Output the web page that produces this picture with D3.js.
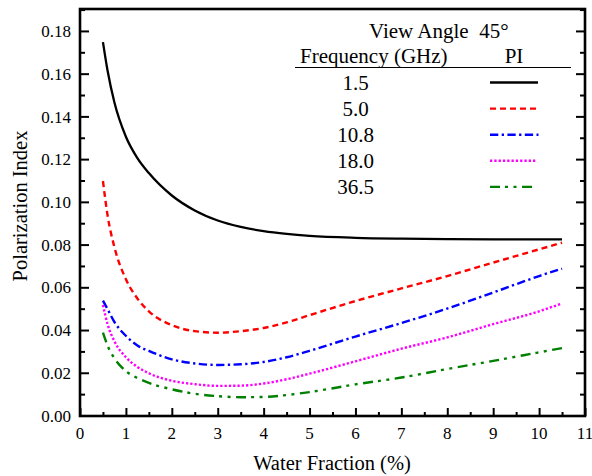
<!DOCTYPE html>
<html>
  <head>
    <meta charset="utf-8">
    <script src="https://d3js.org/d3.v7.min.js"></script>
    <style>
      body { margin: 0; background: #fff; }
    </style>
  </head>
  <body>
    <div id="chart"></div>
    <script>

      // water fraction (%) sample points, shared by all curves
      const waterFraction = [0.5, 0.6, 0.75, 1, 1.25, 1.5, 2, 2.5, 3, 3.5, 4, 4.5, 5, 6, 7, 8, 9, 10, 10.5];

      // polarization index per frequency
      const pi_1_5  = [0.175, 0.1617, 0.1467, 0.1307, 0.1207, 0.1137, 0.1032, 0.0962, 0.0915, 0.0885, 0.0865, 0.0852, 0.0843, 0.0834, 0.083, 0.0828, 0.0827, 0.0827, 0.0827];
      const pi_5_0  = [0.110, 0.094, 0.079, 0.064, 0.055, 0.049, 0.0425, 0.0397, 0.039, 0.0397, 0.0412, 0.0438, 0.0472, 0.0538, 0.0597, 0.0655, 0.0718, 0.078, 0.0811];
      const pi_10_8 = [0.054, 0.050, 0.044, 0.0375, 0.033, 0.0305, 0.0265, 0.0246, 0.0239, 0.0242, 0.0253, 0.0275, 0.0305, 0.0372, 0.0435, 0.0503, 0.0578, 0.0655, 0.069];
      const pi_18_0 = [0.052, 0.043, 0.035, 0.0275, 0.023, 0.020, 0.0165, 0.0149, 0.0141, 0.0142, 0.0152, 0.0172, 0.0198, 0.0256, 0.0315, 0.0368, 0.043, 0.049, 0.0527];
      const pi_36_5 = [0.039, 0.033, 0.027, 0.021, 0.0178, 0.0155, 0.0125, 0.0104, 0.0093, 0.0088, 0.0089, 0.0098, 0.0112, 0.0148, 0.018, 0.022, 0.0258, 0.0298, 0.0318];

      const frequencies = ["1.5", "5.0", "10.8", "18.0", "36.5"];
      const seriesValues = [pi_1_5, pi_5_0, pi_10_8, pi_18_0, pi_36_5];

      const xTicks = [0, 1, 2, 3, 4, 5, 6, 7, 8, 9, 10, 11];
      const yTicks = [0, 0.02, 0.04, 0.06, 0.08, 0.10, 0.12, 0.14, 0.16, 0.18];

      // line styles
      const colors = ["#000000", "#ff0000", "#0000ff", "#ff00ff", "#008000"];
      const dashes = [null, "6,4", "8.3,3.4,2.3,3.4", "2.3,2", "10,5,3,5.5,3,5.5"];
      const legendEnds = [538, 536, 538.5, 536, 533];

      const font = "Liberation Serif";

      const width = 592;
      const height = 476;
      const margin = {top: 9, right: 7, bottom: 60, left: 80};

      const svg = d3.select("#chart")
        .append("svg")
        .attr("width", width)
        .attr("height", height)
        .attr("font-family", font);

      const x = d3.scaleLinear()
        .domain([0, 11])
        .range([margin.left, width - margin.right]);

      const y = d3.scaleLinear()
        .domain([0, 0.1905])
        .range([height - margin.bottom, margin.top]);

      // bottom axis, ticks inward
      const xAxis = svg.append("g")
        .attr("transform", "translate(0," + y(0) + ")")
        .call(d3.axisBottom(x).tickValues(d3.range(0, 11.01, 0.5)).tickSize(-4).tickFormat(""))
        .call(g => g.select(".domain").remove());
      xAxis.selectAll(".tick line")
        .attr("stroke-width", 2)
        .attr("y2", (d) => Number.isInteger(d) ? -8 : -4);

      svg.append("g")
        .attr("font-size", 17)
        .selectAll("text")
        .data(xTicks)
        .enter().append("text")
        .attr("font-family", font)
        .attr("x", d => x(d))
        .attr("y", 439)
        .attr("text-anchor", "middle")
        .text(d => d);

      // left and right axes, ticks inward
      const yMinor = d3.range(0, 0.1901, 0.01);
      [{side: margin.left, dir: 1}, {side: width - margin.right, dir: -1}].forEach(a => {
        svg.append("g")
          .selectAll("line")
          .data(yMinor)
          .enter().append("line")
          .attr("x1", a.side)
          .attr("x2", (d, i) => a.side + a.dir * (i % 2 === 0 ? 9 : 5))
          .attr("y1", d => y(d))
          .attr("y2", d => y(d))
          .attr("stroke", "#000")
          .attr("stroke-width", 2);
      });

      svg.append("g")
        .attr("font-size", 17)
        .selectAll("text")
        .data(yTicks)
        .enter().append("text")
        .attr("font-family", font)
        .attr("x", 71)
        .attr("y", d => y(d))
        .attr("dy", "0.33em")
        .attr("text-anchor", "end")
        .text(d => d3.format(".2f")(d));

      // frame
      svg.append("rect")
        .attr("x", x(0))
        .attr("y", y(0.1905))
        .attr("width", x(11) - x(0))
        .attr("height", y(0) - y(0.1905))
        .attr("fill", "none")
        .attr("stroke", "#000")
        .attr("stroke-width", 2.6);

      // curves
      const line = d3.line()
        .x((d, i) => x(waterFraction[i]))
        .y(d => y(d))
        .curve(d3.curveMonotoneX);

      svg.append("g")
        .selectAll("path")
        .data(seriesValues)
        .enter().append("path")
        .attr("d", d => line(d))
        .attr("fill", "none")
        .attr("stroke", (d, i) => colors[i])
        .attr("stroke-width", (d, i) => i === 0 ? 2.3 : 2.4)
        .attr("stroke-dasharray", (d, i) => dashes[i]);

      // axis titles
      svg.append("text")
        .attr("font-family", font)
        .attr("x", 332)
        .attr("y", 470)
        .attr("text-anchor", "middle")
        .attr("font-size", 20.5)
        .text("Water Fraction (%)");

      svg.append("text")
        .attr("font-family", font)
        .attr("transform", "translate(27,206) rotate(-90)")
        .attr("text-anchor", "middle")
        .attr("font-size", 20.5)
        .text("Polarization Index");

      // legend
      const legend = svg.append("g").attr("font-size", 21).attr("font-family", font);

      legend.append("text")
        .attr("x", 369)
        .attr("y", 38)
        .style("white-space", "pre")
        .text("View Angle  45°");

      legend.append("text")
        .attr("x", 300)
        .attr("y", 63)
        .text("Frequency (GHz)");

      legend.append("text")
        .attr("x", 514)
        .attr("y", 63)
        .attr("text-anchor", "middle")
        .text("PI");

      legend.append("line")
        .attr("x1", 295)
        .attr("x2", 571)
        .attr("y1", 67.5)
        .attr("y2", 67.5)
        .attr("stroke", "#000")
        .attr("stroke-width", 1);

      const rows = legend.selectAll(".row")
        .data(frequencies)
        .enter().append("g")
        .attr("class", "row")
        .attr("transform", (d, i) => "translate(0," + (i * 26.1) + ")");

      rows.append("text")
        .attr("x", 355.5)
        .attr("y", 90)
        .attr("text-anchor", "middle")
        .text(d => d);

      rows.append("line")
        .attr("x1", 490)
        .attr("x2", (d, i) => legendEnds[i])
        .attr("y1", 82.5)
        .attr("y2", 82.5)
        .attr("stroke", (d, i) => colors[i])
        .attr("stroke-width", (d, i) => i === 0 ? 2.6 : 2.4)
        .attr("stroke-dasharray", (d, i) => dashes[i]);

    </script>
  </body>
</html>
